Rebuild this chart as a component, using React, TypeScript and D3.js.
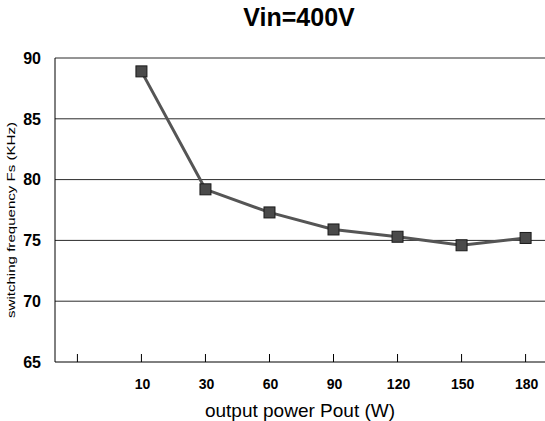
import React, { useEffect, useRef } from 'react';
import * as d3 from 'd3';

// leading blank category holds the first tick on the axis
const categories = ['', '10', '30', '60', '90', '120', '150', '180'];
const powerLabels = ['10', '30', '60', '90', '120', '150', '180'];
const frequency = [88.9, 79.2, 77.3, 75.9, 75.3, 74.6, 75.2];
const yTicks = [65, 70, 75, 80, 85, 90];

const W = 545;
const H = 421;

const App = () => {
  const ref = useRef<SVGSVGElement>(null);

  useEffect(() => {
    const svg = d3.select(ref.current);
    svg.selectAll('*').remove();

    const left = 55;
    const right = 548;
    const top = 58;
    const bottom = 362;
    const font = 'Arial, "Liberation Sans", sans-serif';

    const x = d3.scalePoint<string>().domain(categories).range([left, right]).padding(0.35);
    const y = d3.scaleLinear().domain([65, 90]).range([bottom, top]);

    // horizontal grid
    svg.append('g')
      .selectAll('line')
      .data(yTicks.filter(t => t !== 65))
      .enter()
      .append('line')
      .attr('x1', left)
      .attr('x2', right)
      .attr('y1', d => y(d))
      .attr('y2', d => y(d))
      .attr('stroke', '#2a2a2a')
      .attr('stroke-width', 1);

    // axes lines
    svg.append('line')
      .attr('x1', left).attr('x2', left)
      .attr('y1', top).attr('y2', bottom)
      .attr('stroke', '#000');
    svg.append('line')
      .attr('x1', left).attr('x2', right)
      .attr('y1', bottom).attr('y2', bottom)
      .attr('stroke', '#000');

    // x ticks pointing up
    svg.append('g')
      .selectAll('line')
      .data(categories)
      .enter()
      .append('line')
      .attr('x1', d => x(d)!)
      .attr('x2', d => x(d)!)
      .attr('y1', bottom)
      .attr('y2', bottom - 8)
      .attr('stroke', '#000');

    // y tick labels
    svg.append('g')
      .selectAll('text')
      .data(yTicks)
      .enter()
      .append('text')
      .attr('x', 41)
      .attr('y', d => y(d))
      .attr('dy', '0.36em')
      .attr('text-anchor', 'end')
      .attr('font-family', font)
      .attr('font-weight', 'bold')
      .attr('font-size', 16)
      .text(d => d);

    // x tick labels
    svg.append('g')
      .selectAll('text')
      .data(powerLabels)
      .enter()
      .append('text')
      .attr('x', d => x(d)! + 1)
      .attr('y', 389)
      .attr('text-anchor', 'middle')
      .attr('font-family', font)
      .attr('font-weight', 'bold')
      .attr('font-size', 14)
      .text(d => d);

    // line
    const pts = powerLabels.map((p, i) => [x(p)!, y(frequency[i])] as [number, number]);
    svg.append('path')
      .attr('d', d3.line()(pts))
      .attr('fill', 'none')
      .attr('stroke', '#555')
      .attr('stroke-width', 3);

    // square markers
    const s = 11;
    svg.append('g')
      .selectAll('rect')
      .data(pts)
      .enter()
      .append('rect')
      .attr('x', d => d[0] - s / 2)
      .attr('y', d => d[1] - s / 2)
      .attr('width', s)
      .attr('height', s)
      .attr('fill', '#4a4a4a')
      .attr('stroke', '#1a1a1a')
      .attr('stroke-width', 1);

    // titles
    svg.append('text')
      .attr('x', 299)
      .attr('y', 26)
      .attr('text-anchor', 'middle')
      .attr('font-family', font)
      .attr('font-weight', 'bold')
      .attr('font-size', 25)
      .text('Vin=400V');

    svg.append('text')
      .attr('x', 300)
      .attr('y', 417)
      .attr('text-anchor', 'middle')
      .attr('font-family', font)
      .attr('font-size', 19)
      .text('output power Pout (W)');

    svg.append('text')
      .attr('transform', 'translate(15, 220) rotate(-90)')
      .attr('text-anchor', 'middle')
      .attr('font-family', font)
      .attr('font-size', 11)
      .attr('textLength', 196)
      .attr('lengthAdjust', 'spacingAndGlyphs')
      .text('switching frequency Fs (KHz)');
  }, []);

  return (
    <svg
      ref={ref}
      width={W}
      height={H}
      style={{ position: 'absolute', left: 0, top: 0, background: '#fff' }}
    />
  );
};

export default App;
